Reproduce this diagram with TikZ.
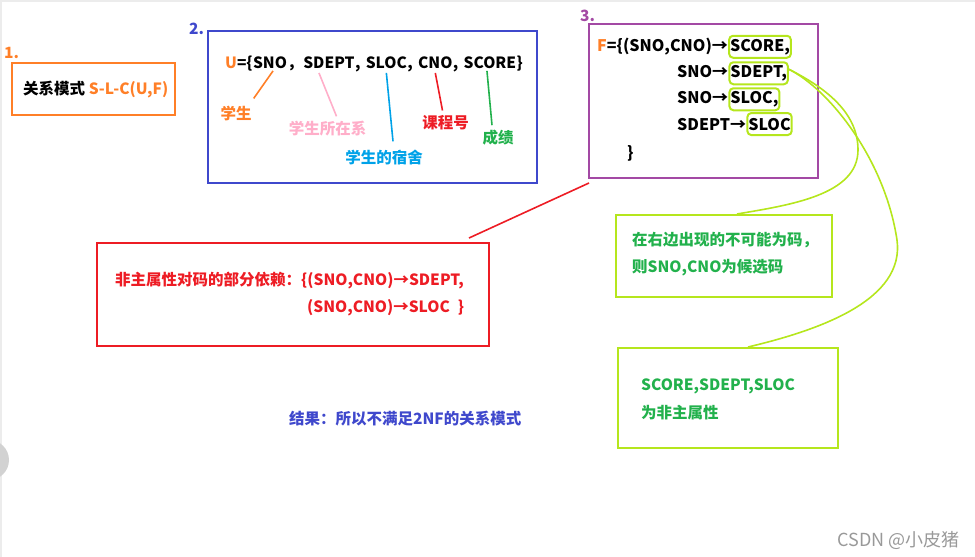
\documentclass[tikz,border=0pt]{standalone}
\usepackage{fontspec}
\setmainfont{Noto Sans CJK SC}
\usetikzlibrary{positioning}
\definecolor{porange}{HTML}{FF7F27}
\definecolor{pindigo}{HTML}{3F48CC}
\definecolor{ppurple}{HTML}{A349A4}
\definecolor{pred}{HTML}{ED1C24}
\definecolor{pgreen}{HTML}{22B14C}
\definecolor{plime}{HTML}{B5E61D}
\definecolor{ppink}{HTML}{FFAEC9}
\definecolor{pcyan}{HTML}{00A2E8}
\tikzset{
  box/.style={rectangle, draw, line width=2pt, inner sep=0pt},
  txt/.style={inner sep=0pt, font=\bfseries\fontsize{15.5}{18}\selectfont},
  big/.style={inner sep=0pt, font=\bfseries\fontsize{16}{20}\selectfont},
  hl/.style={big, draw=plime, line width=2pt, rounded corners=4pt, inner xsep=1pt, minimum height=22pt},
  lbl/.style={txt, inner sep=2pt},
  link/.style={line width=1.6pt}
}

\begin{document}
\begin{tikzpicture}[x=1pt, y=-1pt]
  \useasboundingbox (0,0) rectangle (975,557);
  % screenshot edge
  \draw[gray!15, line width=2pt] (1,557) -- (1,1) -- (975,1);
  \begin{scope}
    \clip (0,0) rectangle (975,557);
    \fill[gray!35] (-11,460) circle (20);
  \end{scope}

  % 1. relation schema
  \node[txt, porange, anchor=base west] (n1) at (4,58) {1.};
  \node[box, draw=porange, minimum width=163, minimum height=52] (mode) at (93.5,89) {};
  \node[txt, anchor=base west] (modet) at (23,94) {关系模式 \textcolor{porange}{S-L-C(U,F)}};

  % 2. attributes
  \node[txt, pindigo, anchor=base west] (n2) at (189,34) {2.};
  \node[box, draw=pindigo, minimum width=329, minimum height=152] (attr) at (372.5,107) {};
  \node[txt, anchor=base west] (u) at (225,68.5) {\textcolor{porange}{U}=\{};
  \node[txt, base right=0pt of u] (sno) {SNO};
  \node[txt, base right=0pt of sno] (c1) {，};
  \node[txt, base right=0pt of c1] (sdept) {SDEPT};
  \node[txt, base right=0pt of sdept] (c2) {,\kern5pt};
  \node[txt, base right=0pt of c2] (sloc) {SLOC};
  \node[txt, base right=0pt of sloc] (c3) {,\kern5pt};
  \node[txt, base right=0pt of c3] (cno) {CNO};
  \node[txt, base right=0pt of cno] (c4) {,\kern5pt};
  \node[txt, base right=0pt of c4] (score) {SCORE};
  \node[txt, base right=0pt of score] (c5) {\}};
  \node[lbl, porange] (stu) at (236,113) {学生};
  \node[lbl, ppink] (dept) at (327.5,129) {学生所在系};
  \node[lbl, pcyan] (loc) at (384,157) {学生的宿舍};
  \node[lbl, pred] (cnol) at (445.5,123) {课程号};
  \node[lbl, pgreen] (scorel) at (498,138) {成绩};
  \draw[link, porange] ([xshift=3pt,yshift=-2pt]sno.south) -- ([yshift=5pt]stu.north east);
  \draw[link, ppink] ([xshift=-10pt,yshift=-4pt]sdept.south) -- ([xshift=9pt,yshift=3pt]dept.north);
  \draw[link, pcyan] ([yshift=-4pt]sloc.south) -- ([xshift=9pt,yshift=6pt]loc.north);
  \draw[link, pred] ([yshift=-4pt]cno.south) -- ([xshift=-3pt,yshift=3pt]cnol.north);
  \draw[link, pgreen] ([xshift=-3pt,yshift=-2pt]score.south) -- ([xshift=-6pt,yshift=3pt]scorel.north);

  % 3. dependency set
  \node[txt, ppurple, anchor=base west] (n3) at (580,21) {3.};
  \node[box, draw=ppurple, minimum width=229, minimum height=154] (fset) at (703.5,101) {};
  \node[big, anchor=base west] (f1) at (597,51) {\textcolor{porange}{F}=\{(SNO,CNO)→};
  \node[hl, base right=0pt of f1] (scorebox) {SCORE,};
  \node[big, anchor=base west] (f2) at (677,77.5) {SNO→};
  \node[hl, base right=0pt of f2] (sdeptbox) {SDEPT,};
  \node[big, anchor=base west] (f3) at (677,103.5) {SNO→};
  \node[hl, base right=0pt of f3] (slocbox) {SLOC,};
  \node[big, anchor=base west] (f4) at (677,130) {SDEPT→};
  \node[hl, base right=0pt of f4] (slocbox2) {SLOC};
  \node[big, anchor=base west] (f5) at (627,158) {\}};

  % partial dependency
  \node[box, draw=pred, minimum width=392, minimum height=103] (partial) at (293,294.5) {};
  \node[txt, pred, anchor=base west] (p1) at (115,285) {非主属性对码的部分依赖：\{(SNO,CNO)→SDEPT,};
  \node[txt, pred, anchor=base west] (p2) at (307,312) {(SNO,CNO)→SLOC\kern8pt\}};
  \draw[link, pred] ([xshift=1pt,yshift=-4pt]fset.south west) -- ([xshift=-21pt,yshift=4pt]partial.north east);

  % candidate key and non-prime attributes
  \node[box, draw=plime, minimum width=216, minimum height=82] (cand) at (724,256) {};
  \node[txt, pgreen, anchor=base west] (a1) at (632,245) {在右边出现的不可能为码，};
  \node[txt, pgreen, anchor=base west] (a2) at (632,272) {则SNO,CNO为候选码};
  \node[box, draw=plime, minimum width=220, minimum height=100] (nonprime) at (728,398) {};
  \node[txt, pgreen, anchor=base west] (b1) at (641,390) {SCORE,SDEPT,SLOC};
  \node[txt, pgreen, anchor=base west] (b2) at (641,418) {为非主属性};
  \draw[link, plime] ([yshift=4pt]sdeptbox.east) .. controls (830,90) and (858,115) .. (858,150)
    .. controls (858,195) and (790,205) .. ([xshift=13pt]cand.north);
  \draw[link, plime] ([yshift=4pt]sdeptbox.east) .. controls (830,90) and (885,160) .. (897,240)
    .. controls (905,300) and (820,330) .. ([xshift=20pt]nonprime.north);

  % result
  \node[txt, pindigo, anchor=base west] (res) at (289,424) {结果：所以不满足2NF的关系模式};
  \node[inner sep=0pt, gray!80, font=\fontsize{18}{20}\selectfont, anchor=base east] (mark) at (960,546) {CSDN @小皮猪};
\end{tikzpicture}
\end{document}
